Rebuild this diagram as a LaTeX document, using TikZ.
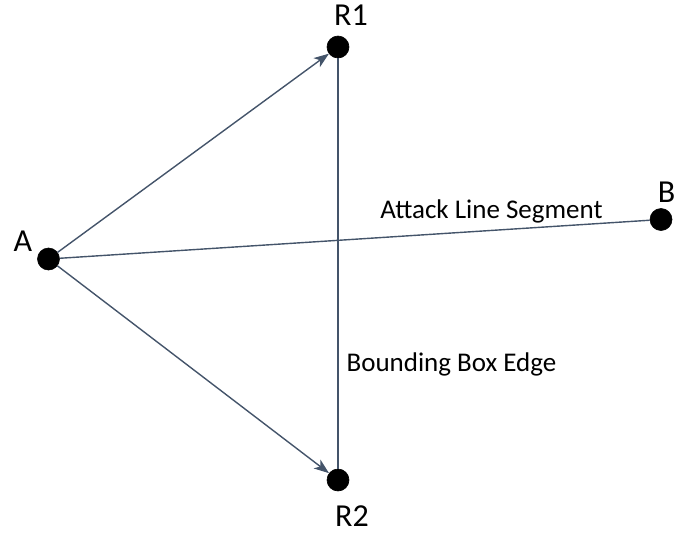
\documentclass[tikz,border=0pt]{standalone}
\usepackage{fontspec}
\setmainfont{Carlito}
\usetikzlibrary{arrows.meta}
\definecolor{edgegray}{HTML}{44546A}
\tikzset{
  dot/.style={circle, fill=black, draw=black, line width=0.6pt, minimum size=22pt, inner sep=0pt},
  ptlabel/.style={anchor=base, inner sep=0pt, font=\fontsize{32}{33}\selectfont},
  note/.style={anchor=base, inner sep=0pt, font=\fontsize{27}{28}\selectfont},
  link/.style={draw=edgegray, line width=1.4pt},
  arrowlink/.style={link, -{Stealth[length=15pt, width=11pt, inset=4pt]}}
}
\begin{document}
\begin{tikzpicture}[x=1pt, y=-1pt]
  \useasboundingbox (0,0) rectangle (697,536);
  % points
  \node[dot] (A)  at (48.5,259) {};
  \node[dot] (R1) at (338,47) {};
  \node[dot] (R2) at (338,480) {};
  \node[dot] (B)  at (661,219.5) {};
  % point labels
  \node[ptlabel] (lA)  at (23,251) {A};
  \node[ptlabel] (lR1) at (351,25) {R1};
  \node[ptlabel] (lR2) at (352,526) {R2};
  \node[ptlabel] (lB)  at (666.5,202) {B};
  % connectors
  \draw[arrowlink] (A) -- (R1);
  \draw[arrowlink] (A) -- (R2);
  \draw[link] (A) -- (B);
  \draw[link] (R1) -- (R2);
  % annotations
  \node[note] (atk) at (491.5,218) {Attack Line Segment};
  \node[note] (bbe) at (451.5,371) {Bounding Box Edge};
\end{tikzpicture}
\end{document}
